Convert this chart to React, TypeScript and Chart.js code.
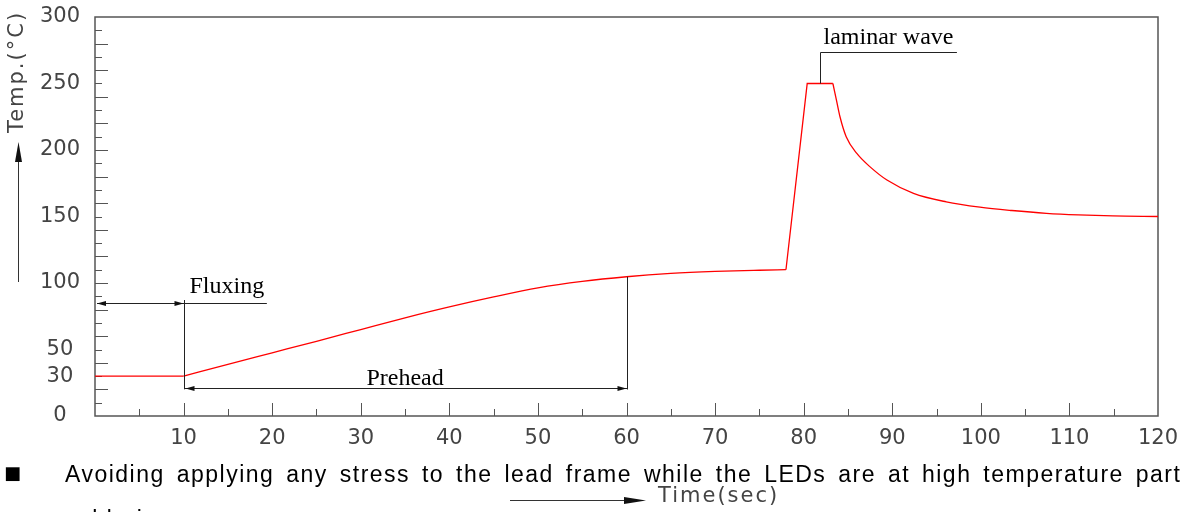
import { useEffect, useRef } from 'react';
import { Chart, registerables } from 'chart.js';

Chart.register(...registerables);

// ---- data ----
const timeSec = [0, 10, 15, 20, 25, 30, 35, 40, 45, 50, 55, 60, 65, 70, 75, 78, 80.4, 83.3, 83.7, 84.1, 84.8, 86.0, 87.5, 89.4, 92.4, 96.1, 99.9, 103.5, 107.4, 111, 114.9, 120];
const tempC = [30, 30, 38.8, 47.5, 56.2, 65, 73.8, 82, 89.5, 96.3, 101.2, 104.7, 107.2, 108.7, 109.6, 110, 250, 250, 237.5, 225, 210, 197.4, 187.3, 177.4, 167.4, 161, 157, 154.5, 152.4, 151.2, 150.4, 150];
// index ranges: straight segments vs smooth segments
const straightRanges = [[0, 1], [15, 17]];
const smoothRanges = [[1, 15], [17, 31]];

const xTickLabels = [10, 20, 30, 40, 50, 60, 70, 80, 90, 100, 110, 120];
const yTickLabels = [0, 30, 50, 100, 150, 200, 250, 300];

const yTitle = 'Temp.(°C)';
const xTitle = 'Time(sec)';

// annotation positions (data units)
const fluxingLabel = 'Fluxing';
const fluxingY = 85;
const fluxingStart = 0;
const fluxingMark = 10;
const fluxingEnd = 19.4;
const fluxingTop = 87.2;

const preheadLabel = 'Prehead';
const preheadY = 20.8;
const preheadEnd = 60;
const preheadTop = 104.7;
const preheadLabelX = 35;

const laminarLabel = 'laminar wave';
const laminarX = 81.8;
const laminarBase = 250;
const laminarY = 273.5;
const laminarEnd = 97.3;

const noteLine1 = 'Avoiding applying any stress to the lead frame while the LEDs are at high temperature part';
const noteLine2 = 'soldering.';

function arrowHead(ctx: CanvasRenderingContext2D, x: number, y: number, dir: string, len: number, half: number) {
  ctx.beginPath();
  ctx.moveTo(x, y);
  if (dir === 'left') { ctx.lineTo(x + len, y - half); ctx.lineTo(x + len, y + half); }
  else if (dir === 'right') { ctx.lineTo(x - len, y - half); ctx.lineTo(x - len, y + half); }
  else if (dir === 'up') { ctx.lineTo(x - half, y + len); ctx.lineTo(x + half, y + len); }
  ctx.closePath();
  ctx.fill();
}

const framePlugin = {
  id: 'frameTicks',
  beforeDatasetsDraw(chart: any) {
    const ctx = chart.ctx as CanvasRenderingContext2D;
    const { left, right, top, bottom } = chart.chartArea;
    const xs = chart.scales.x;
    const ys = chart.scales.y;
    ctx.save();
    ctx.strokeStyle = '#555';
    ctx.lineWidth = 1.5;
    ctx.strokeRect(left, top, right - left, bottom - top);
    ctx.lineWidth = 1;
    ctx.strokeStyle = '#555';
    ctx.beginPath();
    for (let v = 5; v < 120; v += 5) {
      const px = Math.round(xs.getPixelForValue(v)) + 0.5;
      const len = v % 10 === 0 ? 13 : 7;
      ctx.moveTo(px, bottom);
      ctx.lineTo(px, bottom - len);
    }
    for (let v = 10; v < 300; v += 10) {
      const py = Math.round(ys.getPixelForValue(v)) + 0.5;
      const len = v % 20 === 0 ? 13 : 7;
      ctx.moveTo(left, py);
      ctx.lineTo(left + len, py);
    }
    ctx.stroke();
    ctx.restore();
  },
  afterDatasetsDraw(chart: any) {
    const ctx = chart.ctx as CanvasRenderingContext2D;
    const xs = chart.scales.x;
    const ys = chart.scales.y;
    const X = (v: number) => xs.getPixelForValue(v);
    const Y = (v: number) => ys.getPixelForValue(v);
    ctx.save();
    ctx.strokeStyle = '#222';
    ctx.fillStyle = '#111';
    ctx.lineWidth = 1;

    // Fluxing
    const fy = Math.round(Y(fluxingY)) + 0.5;
    const fx = Math.round(X(fluxingMark)) + 0.5;
    ctx.beginPath();
    ctx.moveTo(X(fluxingStart) + 2, fy);
    ctx.lineTo(X(fluxingEnd), fy);
    ctx.moveTo(fx, Y(fluxingTop));
    ctx.lineTo(fx, Y(preheadY) + 1);
    ctx.stroke();
    arrowHead(ctx, X(fluxingStart) + 2, fy, 'left', 9, 2.5);
    arrowHead(ctx, fx - 1, fy, 'right', 9, 2.5);

    // Prehead
    const py = Math.round(Y(preheadY)) + 0.5;
    const px2 = Math.round(X(preheadEnd)) + 0.5;
    ctx.beginPath();
    ctx.moveTo(fx, py);
    ctx.lineTo(px2, py);
    ctx.moveTo(px2, Y(preheadTop));
    ctx.lineTo(px2, py + 1);
    ctx.stroke();
    arrowHead(ctx, fx + 1, py, 'left', 9, 2.5);
    arrowHead(ctx, px2 - 1, py, 'right', 9, 2.5);

    // laminar wave
    const lx = Math.round(X(laminarX)) + 0.5;
    const ly = Math.round(Y(laminarY)) + 0.5;
    ctx.beginPath();
    ctx.moveTo(lx, Y(laminarBase));
    ctx.lineTo(lx, ly);
    ctx.lineTo(X(laminarEnd), ly);
    ctx.stroke();

    ctx.fillStyle = '#000';
    ctx.font = '24px "Liberation Serif"';
    ctx.textBaseline = 'alphabetic';
    ctx.textAlign = 'left';
    ctx.fillText(fluxingLabel, fx + 5, fy - 11);
    ctx.fillText(laminarLabel, lx + 3, ly - 9);
    ctx.textAlign = 'center';
    ctx.fillText(preheadLabel, X(preheadLabelX), py - 4);

    // axis titles
    ctx.fillStyle = '#444';
    ctx.strokeStyle = '#333';
    ctx.font = '21px "DejaVu Sans"';
    (ctx as any).letterSpacing = '2px';
    ctx.save();
    ctx.translate(18, 72);
    ctx.rotate(-Math.PI / 2);
    ctx.textAlign = 'center';
    ctx.textBaseline = 'middle';
    ctx.fillText(yTitle, 0, 0);
    ctx.restore();
    ctx.textAlign = 'left';
    ctx.textBaseline = 'middle';
    ctx.fillText(xTitle, 658, 497);
    (ctx as any).letterSpacing = '0px';

    ctx.fillStyle = '#111';
    ctx.beginPath();
    ctx.moveTo(18.5, 282);
    ctx.lineTo(18.5, 160);
    ctx.moveTo(510, 500.5);
    ctx.lineTo(626, 500.5);
    ctx.stroke();
    arrowHead(ctx, 18.5, 142, 'up', 20, 3.5);
    arrowHead(ctx, 646, 500.5, 'right', 22, 3.5);
    ctx.restore();
  },
};

function pointsFor(range: number[]) {
  const pts: { x: number; y: number }[] = [];
  for (let i = range[0]; i <= range[1]; i++) pts.push({ x: timeSec[i], y: tempC[i] });
  return pts;
}

export default function App() {
  const ref = useRef<HTMLCanvasElement | null>(null);
  useEffect(() => {
    if (!ref.current) return;
    const base = { borderColor: '#ff0000', borderWidth: 1.3, pointRadius: 0, fill: false };
    const datasets: any[] = [
      ...straightRanges.map((r) => ({ ...base, data: pointsFor(r), tension: 0 })),
      ...smoothRanges.map((r) => ({ ...base, data: pointsFor(r), cubicInterpolationMode: 'monotone' })),
    ];
    const chart = new Chart(ref.current, {
      type: 'line',
      data: { datasets },
      options: {
        animation: false,
        responsive: false,
        devicePixelRatio: 1,
        events: [],
        layout: { padding: { left: 0, right: 26, top: 17, bottom: 0 } },
        plugins: { legend: { display: false }, tooltip: { enabled: false } },
        scales: {
          x: {
            type: 'linear',
            min: 0,
            max: 120,
            grid: { display: false, drawTicks: false },
            border: { display: false },
            afterBuildTicks: (s: any) => { s.ticks = xTickLabels.map((v) => ({ value: v })); },
            afterFit: (s: any) => {
              s.height = 96;
              s.paddingLeft = 0; s.paddingRight = 0; s.paddingTop = 0; s.paddingBottom = 0;
            },
            ticks: {
              autoSkip: false,
              maxRotation: 0,
              padding: 10,
              color: '#444',
              font: { family: '"DejaVu Sans"', size: 21 },
            },
          },
          y: {
            type: 'linear',
            min: 0,
            max: 300,
            grid: { display: false, drawTicks: false },
            border: { display: false },
            afterBuildTicks: (s: any) => { s.ticks = yTickLabels.map((v) => ({ value: v })); },
            afterFit: (s: any) => {
              s.width = 95;
              s.paddingLeft = 0; s.paddingRight = 0; s.paddingTop = 0; s.paddingBottom = 0;
            },
            ticks: {
              autoSkip: false,
              padding: 15,
              crossAlign: 'center',
              color: '#444',
              font: { family: '"DejaVu Sans"', size: 21 },
            },
          },
        },
      },
      plugins: [framePlugin],
    });
    return () => chart.destroy();
  }, []);

  const textStyle: any = {
    position: 'absolute',
    left: 65,
    font: '23px "Liberation Sans"',
    lineHeight: '30px',
    letterSpacing: '1.5px',
    wordSpacing: '4px',
    whiteSpace: 'nowrap',
    color: '#000',
  };

  return (
    <div style={{ position: 'fixed', left: 0, top: 0, width: 1184, height: 512, overflow: 'hidden', background: '#fff' }}>
      <canvas ref={ref} width={1184} height={512} style={{ position: 'absolute', left: 0, top: 0, width: 1184, height: 512 }} />
      <div style={{ position: 'absolute', left: 4, top: 458, font: '18px "DejaVu Sans"', lineHeight: '30px', color: '#000' }}>■</div>
      <div style={{ ...textStyle, top: 459 }}>{noteLine1}</div>
      <div style={{ ...textStyle, top: 504 }}>{noteLine2}</div>
    </div>
  );
}
